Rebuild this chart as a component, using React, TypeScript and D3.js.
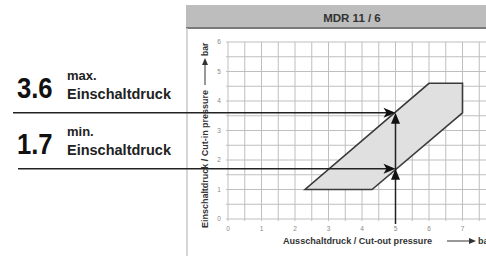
import React from "react";
import * as d3 from "d3";

const title = "MDR 11 / 6";
const xTickValues = [0, 1, 2, 3, 4, 5, 6, 7];
const yTickValues = [0, 1, 2, 3, 4, 5, 6];
const envelopeX = [2.3, 4.3, 7, 7, 6];
const envelopeY = [1, 1, 3.6, 4.6, 4.6];
const cutOutPressure = 5;
const maxCutIn = 3.6;
const minCutIn = 1.7;
const maxLabel = ["3.6", "max.", "Einschaltdruck"];
const minLabel = ["1.7", "min.", "Einschaltdruck"];
const xTitle = "Ausschaltdruck / Cut-out pressure";
const yTitle = "Einschaltdruck / Cut-in pressure";
const unit = "bar";

export default function App() {
  const W = 486, H = 256;
  const x = d3.scaleLinear().domain([0, 8]).range([228, 496]);
  const y = d3.scaleLinear().domain([0, 6]).range([219, 42]);
  const gridX = d3.range(0, 8.01, 0.5);
  const gridY = d3.range(0, 6.01, 0.5);
  const pts: [number, number][] = envelopeX.map((v, i) => [x(v), y(envelopeY[i])]);
  const poly = d3.line()(pts.concat([pts[0]])) + "Z";
  const font = "'Liberation Sans', Arial, sans-serif";
  const xc = x(cutOutPressure);

  const hArrow = (tipX: number, tipY: number) =>
    `M${tipX},${tipY} L${tipX - 12},${tipY - 5} L${tipX - 9},${tipY} L${tipX - 12},${tipY + 5} Z`;
  const vArrow = (tipX: number, tipY: number) =>
    `M${tipX},${tipY} L${tipX - 4.5},${tipY + 11} L${tipX + 4.5},${tipY + 11} Z`;

  const label = (vals: string[], v: number, x0: number) => {
    const yy = y(v);
    return (
      <g>
        <g transform={`translate(${x0},${yy - 15}) scale(0.95,1.12)`}>
          <text x={0} y={0} fontFamily={font} fontWeight="bold" fontSize={27} fill="#111">
            {vals[0]}
          </text>
        </g>
        <text x={67} y={yy - 33} fontFamily={font} fontWeight="bold" fontSize={13} fill="#222">
          {vals[1]}
        </text>
        <text x={67} y={yy - 14} fontFamily={font} fontWeight="bold" fontSize={14.5} fill="#222">
          {vals[2]}
        </text>
      </g>
    );
  };

  return (
    <svg width={W} height={H} style={{ position: "absolute", left: 0, top: 0, background: "#fff" }}>
      {/* panel */}
      <rect x={186} y={5} width={310} height={23} fill="#bdbdbd" />
      <line x1={186} x2={496} y1={28} y2={28} stroke="#7a7a7a" strokeWidth={2} />
      <line x1={187} x2={187} y1={28} y2={256} stroke="#c8c8c8" strokeWidth={1.5} />
      <text x={352} y={22} textAnchor="middle" fontFamily={font} fontWeight="bold" fontSize={11.5} fill="#333">
        {title}
      </text>
      {/* grid */}
      {gridX.map((v) => (
        <line key={"gx" + v} x1={x(v)} x2={x(v)} y1={y(0) + 2} y2={y(6)} stroke="#bfbfbf" strokeWidth={1} />
      ))}
      {gridY.map((v) => (
        <line key={"gy" + v} x1={x(0) - 2} x2={x(8)} y1={y(v)} y2={y(v)} stroke="#bfbfbf" strokeWidth={1} />
      ))}
      {xTickValues.map((v) => (
        <text key={"xt" + v} x={x(v)} y={y(0) + 12} textAnchor="middle" fontFamily={font} fontSize={6.5} fill="#888">
          {v}
        </text>
      ))}
      {yTickValues.map((v) => (
        <text key={"yt" + v} x={x(0) - 9} y={y(v) + 2} textAnchor="middle" fontFamily={font} fontSize={6.5} fill="#888">
          {v}
        </text>
      ))}
      {/* axis titles */}
      <text x={283} y={244} fontFamily={font} fontWeight="bold" fontSize={9} fill="#333" textLength={149} lengthAdjust="spacingAndGlyphs">
        {xTitle}
      </text>
      <line x1={447} x2={472} y1={241} y2={241} stroke="#333" strokeWidth={1} />
      <path d="M476,241 L469,238 L469,244 Z" fill="#333" />
      <text x={478} y={244} fontFamily={font} fontWeight="bold" fontSize={9} fill="#333">
        {unit}
      </text>
      <g transform="translate(208,228) rotate(-90)">
        <text x={0} y={0} fontFamily={font} fontWeight="bold" fontSize={8.5} fill="#333" textLength={138} lengthAdjust="spacingAndGlyphs">
          {yTitle}
        </text>
        <line x1={143} x2={166} y1={-3} y2={-3} stroke="#333" strokeWidth={1} />
        <path d="M170,-3 L163,-6 L163,0 Z" fill="#333" />
        <text x={172} y={0} fontFamily={font} fontWeight="bold" fontSize={8.5} fill="#333">
          {unit}
        </text>
      </g>
      {/* envelope */}
      <path d={poly} fill="#e0e0e0" stroke="#3a3a3a" strokeWidth={1.6} strokeLinejoin="miter" />
      {/* arrows */}
      <line x1={13} x2={xc - 8} y1={y(maxCutIn)} y2={y(maxCutIn)} stroke="#222" strokeWidth={1.5} />
      <line x1={18} x2={xc - 8} y1={y(minCutIn)} y2={y(minCutIn)} stroke="#222" strokeWidth={1.5} />
      <line x1={xc} x2={xc} y1={224} y2={y(maxCutIn) + 6} stroke="#222" strokeWidth={1.5} />
      <path d={hArrow(xc, y(maxCutIn))} fill="#111" />
      <path d={hArrow(xc, y(minCutIn))} fill="#111" />
      <path d={vArrow(xc, y(maxCutIn))} fill="#111" />
      <path d={vArrow(xc, y(minCutIn))} fill="#111" />
      {/* labels */}
      {label(maxLabel, maxCutIn, 17)}
      {label(minLabel, minCutIn, 17)}
    </svg>
  );
}
